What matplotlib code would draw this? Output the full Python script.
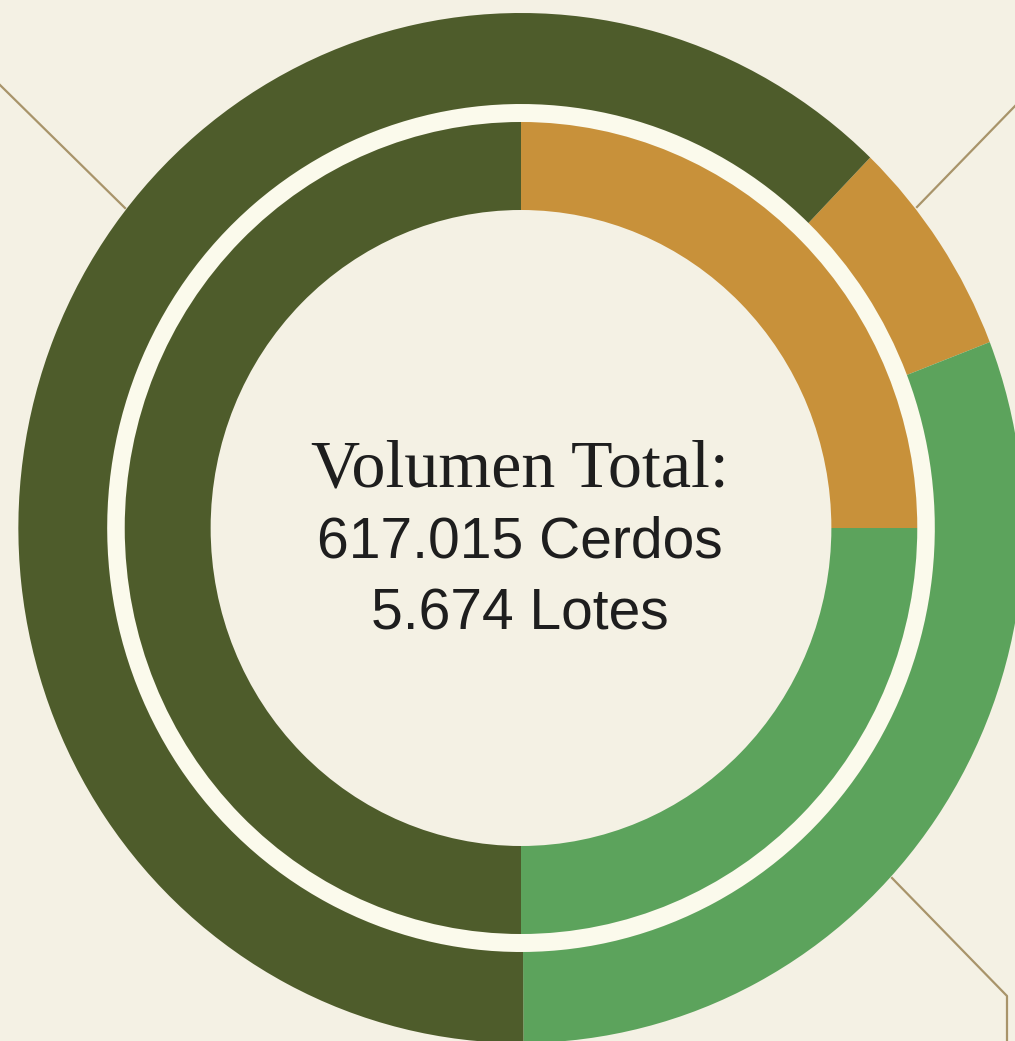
import matplotlib

matplotlib.use("Agg")
import matplotlib.pyplot as plt
from matplotlib.patches import Circle

# Ring shares (percent), clockwise order
outer_labels = ["Segmento A", "Segmento B", "Segmento C"]
outer_values = [6.9, 30.8, 62.3]
inner_labels = ["Segmento A", "Segmento B", "Segmento C"]
inner_values = [25.0, 25.0, 50.0]

ring_colors = ["#C8913A", "#5CA35C", "#4E5C2B"]

title_line = "Volumen Total:"
cerdos_line = "617.015 Cerdos"
lotes_line = "5.674 Lotes"

BG = "#F4F1E4"
LINE = "#A8946A"

W, H = 1015, 1041
CX, CY = 521, 528  # centre in image pixels
SX = 0.976  # slight horizontal squash in the reference

fig = plt.figure(figsize=(W / 100, H / 100), dpi=100, facecolor=BG)
ax = fig.add_axes([0, 0, 1, 1])
ax.set_facecolor(BG)

# light gap ring between the two donuts
ax.add_patch(Circle((0, 0), 424, facecolor="#FBFAEC", edgecolor="none", zorder=0))
ax.add_patch(Circle((0, 0), 406, facecolor=BG, edgecolor="none", zorder=0))

ax.pie(outer_values, radius=515, colors=ring_colors, startangle=90 - 44,
       counterclock=False, wedgeprops=dict(width=91, edgecolor="none"))
ax.pie(inner_values, radius=406, colors=ring_colors, startangle=90,
       counterclock=False, wedgeprops=dict(width=88, edgecolor="none"))

ax.set_aspect("auto")
ax.set_xlim(-CX / SX, (W - CX) / SX)
ax.set_ylim(-(H - CY), CY)
ax.axis("off")

# decorative corner lines (figure pixel coords)
def seg(points):
    xs = [p[0] / W for p in points]
    ys = [1 - p[1] / H for p in points]
    fig.add_artist(plt.Line2D(xs, ys, color=LINE, lw=1.6, zorder=0))

seg([(0, 85), (125, 208)])
seg([(917, 207), (1015, 106)])
seg([(892, 878), (1007, 996), (1007, 1041)])

tx = (520 - CX) / SX
ax.text(tx, CY - 487, title_line, ha="center", va="baseline",
        fontsize=49, family="Liberation Serif", color="#1E1E1E")
ax.text(tx, CY - 557, cerdos_line, ha="center", va="baseline",
        fontsize=41, family="Liberation Sans", color="#1E1E1E")
ax.text(tx, CY - 630, lotes_line, ha="center", va="baseline",
        fontsize=41, family="Liberation Sans", color="#1E1E1E")

fig.savefig("out.png", dpi=100, facecolor=BG)
